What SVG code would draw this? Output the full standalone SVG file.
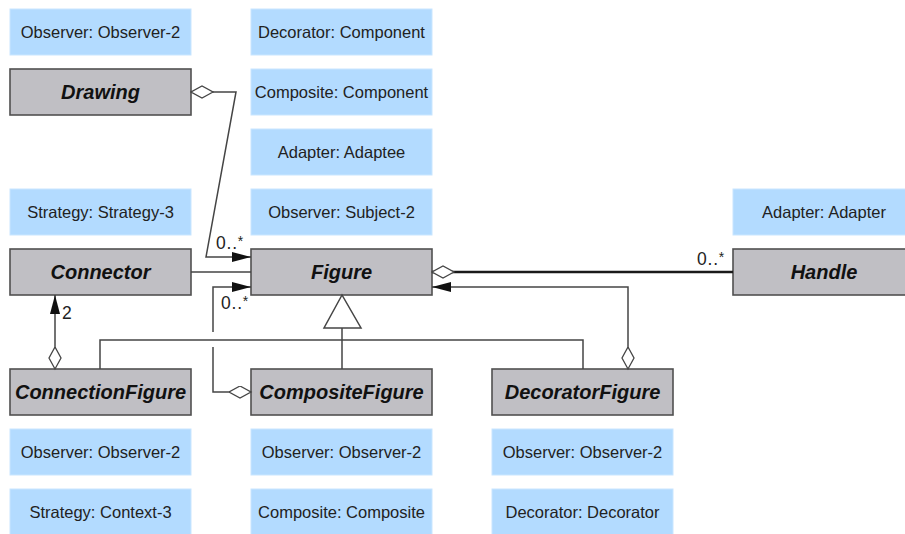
<svg xmlns="http://www.w3.org/2000/svg" width="905" height="534" viewBox="0 0 905 534">
  <style>
    .note rect { fill: #b3dbff; stroke: #c9e6ff; stroke-width: 1; }
    .note text { font-family: "Liberation Sans", Arial, sans-serif; font-size: 16.5px; fill: #222; text-anchor: middle; }
    .cls rect { fill: #c0bfc4; stroke: #505050; stroke-width: 1.6; }
    .cls text { font-family: "Liberation Sans", Arial, sans-serif; font-size: 20px; font-weight: bold; font-style: italic; fill: #111; text-anchor: middle; }
    .wire { fill: none; stroke: #454545; stroke-width: 1.5; }
    .heavy { fill: none; stroke: #1a1a1a; stroke-width: 2.4; }
    .mult { font-family: "Liberation Sans", Arial, sans-serif; font-size: 17.5px; letter-spacing: 0.8px; fill: #222; }
    .mult tspan { font-size: 14px; }
  </style>
  <defs>
    <marker id="arrow" markerUnits="userSpaceOnUse" markerWidth="20" markerHeight="11" refX="19" refY="5" orient="auto">
      <path d="M0,0 L19,5 L0,10 z" fill="#111"/>
    </marker>
    <marker id="diamond" markerUnits="userSpaceOnUse" markerWidth="24" markerHeight="14" refX="22.5" refY="6.5" orient="auto-start-reverse">
      <path d="M0.5,6.5 L11.5,0.5 L22.5,6.5 L11.5,12.5 z" fill="#fff" stroke="#454545" stroke-width="1.3"/>
    </marker>
  </defs>

  <rect width="905" height="534" fill="#fff"/>

  <!-- pattern-role notes -->
  <g id="note-drawing-observer" class="note"><rect x="10" y="9" width="181" height="46"/><text x="100.5" y="38">Observer: Observer-2</text></g>
  <g id="note-decorator-component" class="note"><rect x="251" y="9" width="181" height="46"/><text x="341.5" y="38">Decorator: Component</text></g>
  <g id="note-composite-component" class="note"><rect x="251" y="69" width="181" height="46"/><text x="341.5" y="98">Composite: Component</text></g>
  <g id="note-adapter-adaptee" class="note"><rect x="251" y="129" width="181" height="46"/><text x="341.5" y="158">Adapter: Adaptee</text></g>
  <g id="note-strategy" class="note"><rect x="10" y="189" width="181" height="46"/><text x="100.5" y="218">Strategy: Strategy-3</text></g>
  <g id="note-subject" class="note"><rect x="251" y="189" width="181" height="46"/><text x="341.5" y="218">Observer: Subject-2</text></g>
  <g id="note-adapter" class="note"><rect x="733" y="189" width="182" height="46"/><text x="824" y="218">Adapter: Adapter</text></g>
  <g id="note-connection-observer" class="note"><rect x="10" y="429" width="181" height="46"/><text x="100.5" y="458">Observer: Observer-2</text></g>
  <g id="note-context" class="note"><rect x="10" y="489" width="181" height="46"/><text x="100.5" y="518">Strategy: Context-3</text></g>
  <g id="note-composite-observer" class="note"><rect x="251" y="429" width="181" height="46"/><text x="341.5" y="458">Observer: Observer-2</text></g>
  <g id="note-composite" class="note"><rect x="251" y="489" width="181" height="46"/><text x="341.5" y="518">Composite: Composite</text></g>
  <g id="note-decorator-observer" class="note"><rect x="492" y="429" width="181" height="46"/><text x="582.5" y="458">Observer: Observer-2</text></g>
  <g id="note-decorator" class="note"><rect x="492" y="489" width="181" height="46"/><text x="582.5" y="518">Decorator: Decorator</text></g>

  <!-- classes -->
  <g id="drawing" class="cls"><rect x="10" y="69" width="181" height="46"/><text x="100.5" y="99">Drawing</text></g>
  <g id="connector" class="cls"><rect x="10" y="249" width="181" height="46"/><text x="100.5" y="279">Connector</text></g>
  <g id="figure" class="cls"><rect x="251" y="249" width="181" height="46"/><text x="341.5" y="279">Figure</text></g>
  <g id="handle" class="cls"><rect x="733" y="249" width="182" height="46"/><text x="824" y="279">Handle</text></g>
  <g id="connection-figure" class="cls"><rect x="10" y="369" width="181" height="46"/><text x="100.5" y="399">ConnectionFigure</text></g>
  <g id="composite-figure" class="cls"><rect x="251" y="369" width="181" height="46"/><text x="341.5" y="399">CompositeFigure</text></g>
  <g id="decorator-figure" class="cls"><rect x="492" y="369" width="181" height="46"/><text x="582.5" y="399">DecoratorFigure</text></g>

  <!-- relationships -->
  <g id="connectors">
    <path class="wire" d="M191,92 L236,92 L206,257 L251,257" marker-start="url(#diamond)" marker-end="url(#arrow)"/>
    <text class="mult" x="216" y="249">0..<tspan dy="-3">*</tspan></text>

    <path class="wire" d="M191,272 L251,272"/>

    <path class="wire" d="M251,392 L213,392 L213,347 M213,332 L213,287 L251,287" marker-start="url(#diamond)" marker-end="url(#arrow)"/>
    <text class="mult" x="221" y="309">0..<tspan dy="-3">*</tspan></text>

    <path class="heavy" d="M432,272 L733,272" marker-start="url(#diamond)"/>
    <text class="mult" x="697" y="265">0..<tspan dy="-3">*</tspan></text>

    <path class="wire" d="M628,369 L628,287 L432,287" marker-start="url(#diamond)" marker-end="url(#arrow)"/>

    <path class="wire" d="M55,369 L55,295" marker-start="url(#diamond)" marker-end="url(#arrow)"/>
    <text class="mult" x="62" y="319">2</text>

    <!-- generalization -->
    <path class="wire" d="M100,369 L100,340 L583,340 L583,369 M342,369 L342,328"/>
    <polygon points="342,295 324,328 361,328" fill="#fff" stroke="#454545" stroke-width="1.5"/>
  </g>
</svg>
